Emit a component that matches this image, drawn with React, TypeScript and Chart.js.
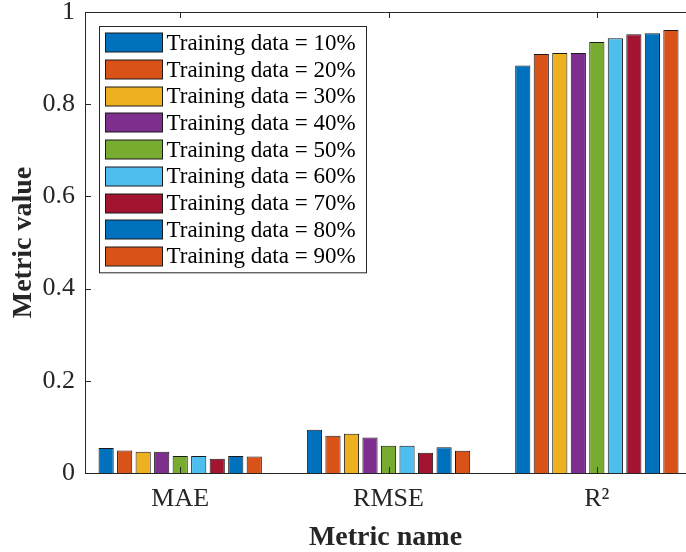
import React, { useEffect, useRef } from "react";
import { Chart, registerables } from "chart.js";

Chart.register(...registerables);

const categories = ["MAE", "RMSE", "R²"];
const seriesLabels = [
  "Training data = 10%",
  "Training data = 20%",
  "Training data = 30%",
  "Training data = 40%",
  "Training data = 50%",
  "Training data = 60%",
  "Training data = 70%",
  "Training data = 80%",
  "Training data = 90%",
];
const seriesColors = [
  "#0072BD",
  "#D95319",
  "#EDB120",
  "#7E2F8E",
  "#77AC30",
  "#4DBEEE",
  "#A2142F",
  "#0072BD",
  "#D95319",
];
// values per series: [MAE, RMSE, R2]
const train10 = [0.054, 0.094, 0.884];
const train20 = [0.049, 0.081, 0.909];
const train30 = [0.046, 0.085, 0.911];
const train40 = [0.046, 0.077, 0.911];
const train50 = [0.037, 0.059, 0.935];
const train60 = [0.037, 0.059, 0.943];
const train70 = [0.031, 0.044, 0.952];
const train80 = [0.037, 0.056, 0.954];
const train90 = [0.036, 0.048, 0.961];
const seriesValues = [train10, train20, train30, train40, train50, train60, train70, train80, train90];
const yTicks = [0, 0.2, 0.4, 0.6, 0.8, 1];

const SERIF = "'Liberation Serif', 'Times New Roman', serif";
const AXIS_COLOR = "#262626";

const frameAndLegend = {
  id: "frameAndLegend",
  afterDatasetsDraw(chart: any) {
    const { ctx, chartArea } = chart;
    const xs = chart.scales.x;
    const ys = chart.scales.y;
    const L = chartArea.left, R = chartArea.right, T = chartArea.top, B = chartArea.bottom;
    ctx.save();
    ctx.strokeStyle = AXIS_COLOR;
    ctx.lineWidth = 1;
    ctx.beginPath();
    ctx.moveTo(L + 0.5, T + 0.5);
    ctx.lineTo(L + 0.5, B + 0.5);
    ctx.lineTo(R, B + 0.5);
    ctx.moveTo(L + 0.5, T + 0.5);
    ctx.lineTo(R, T + 0.5);
    ctx.stroke();
    const tl = 6;
    ctx.beginPath();
    yTicks.forEach((v) => {
      const py = Math.round(ys.getPixelForValue(v)) + 0.5;
      ctx.moveTo(L, py);
      ctx.lineTo(L + tl, py);
    });
    categories.forEach((_, i) => {
      const px = Math.round(xs.getPixelForValue(i + 1)) + 0.5;
      ctx.moveTo(px, B);
      ctx.lineTo(px, B - tl);
      ctx.moveTo(px, T);
      ctx.lineTo(px, T + tl);
    });
    ctx.stroke();

    // legend
    const ds = chart.data.datasets;
    const bx = L + 14.5, by = T + 14.5;
    const rowH = 26.7;
    const bw = 267, bh = rowH * ds.length + 6;
    ctx.fillStyle = "#ffffff";
    ctx.fillRect(bx, by, bw, bh);
    ctx.strokeStyle = "#262626";
    ctx.lineWidth = 1;
    ctx.strokeRect(bx, by, bw, bh);
    ctx.font = `23px ${SERIF}`;
    ctx.textBaseline = "middle";
    ctx.textAlign = "left";
    ds.forEach((d: any, i: number) => {
      const cy = by + 3 + rowH * i + rowH / 2;
      ctx.fillStyle = d.backgroundColor;
      ctx.fillRect(bx + 6, Math.round(cy - 9.5), 57, 19);
      ctx.strokeStyle = "#1a1a1a";
      ctx.strokeRect(bx + 6, Math.round(cy - 9.5), 57, 19);
      ctx.fillStyle = "#000000";
      ctx.fillText(d.label, bx + 67, cy + 1);
    });
    ctx.restore();
  },
};

export default function App() {
  const ref = useRef<HTMLCanvasElement | null>(null);
  useEffect(() => {
    document.body.style.margin = "0";
    const canvas = ref.current!;
    const chart = new Chart(canvas, {
      type: "bar",
      data: {
        datasets: seriesLabels.map((label, s) => ({
          label,
          data: seriesValues[s].map((v, i) => ({ x: i + 1, y: v })),
          backgroundColor: seriesColors[s],
          borderColor: "#1a1a1a",
          borderWidth: 1,
          categoryPercentage: 0.8,
          barPercentage: 0.82,
        })),
      },
      options: {
        animation: false,
        responsive: false,
        maintainAspectRatio: false,
        layout: { padding: { top: 12, right: 0, bottom: 0, left: 0 } },
        plugins: { legend: { display: false }, tooltip: { enabled: false } },
        scales: {
          x: {
            type: "linear",
            min: 0.543,
            max: 3.428,
            offset: false,
            grid: { display: false, drawTicks: false },
            border: { display: false },
            afterBuildTicks: (axis: any) => {
              axis.ticks = categories.map((_, i) => ({ value: i + 1 }));
            },
            afterFit: (axis: any) => {
              axis.height = 79;
              axis.paddingLeft = 0;
              axis.paddingRight = 0;
            },
            ticks: {
              autoSkip: false,
              maxRotation: 0,
              padding: 11,
              color: AXIS_COLOR,
              font: { family: SERIF, size: 26 },
              callback: (v: any) => categories[Math.round(Number(v)) - 1] ?? "",
            },
            title: {
              display: true,
              text: "Metric name",
              color: AXIS_COLOR,
              font: { family: SERIF, size: 28, weight: "bold", lineHeight: 1 },
              padding: { top: 0, bottom: 0 },
            },
          },
          y: {
            type: "linear",
            min: 0,
            max: 1,
            grid: { display: false, drawTicks: false },
            border: { display: false },
            afterBuildTicks: (axis: any) => {
              axis.ticks = yTicks.map((v) => ({ value: v }));
            },
            afterFit: (axis: any) => {
              axis.width = 85;
              axis.paddingTop = 0;
              axis.paddingBottom = 0;
            },
            ticks: {
              padding: 10,
              color: AXIS_COLOR,
              font: { family: SERIF, size: 26 },
              callback: (v: any) => String(Number(v)),
            },
            title: {
              display: true,
              text: "Metric value",
              color: AXIS_COLOR,
              font: { family: SERIF, size: 28, weight: "bold", lineHeight: 1 },
              padding: { top: 10, bottom: 0 },
            },
          },
        },
      },
      plugins: [frameAndLegend],
    });
    return () => chart.destroy();
  }, []);
  return (
    <div style={{ width: 686, height: 552 }}>
      <canvas ref={ref} width={686} height={552} style={{ display: "block" }} />
    </div>
  );
}
